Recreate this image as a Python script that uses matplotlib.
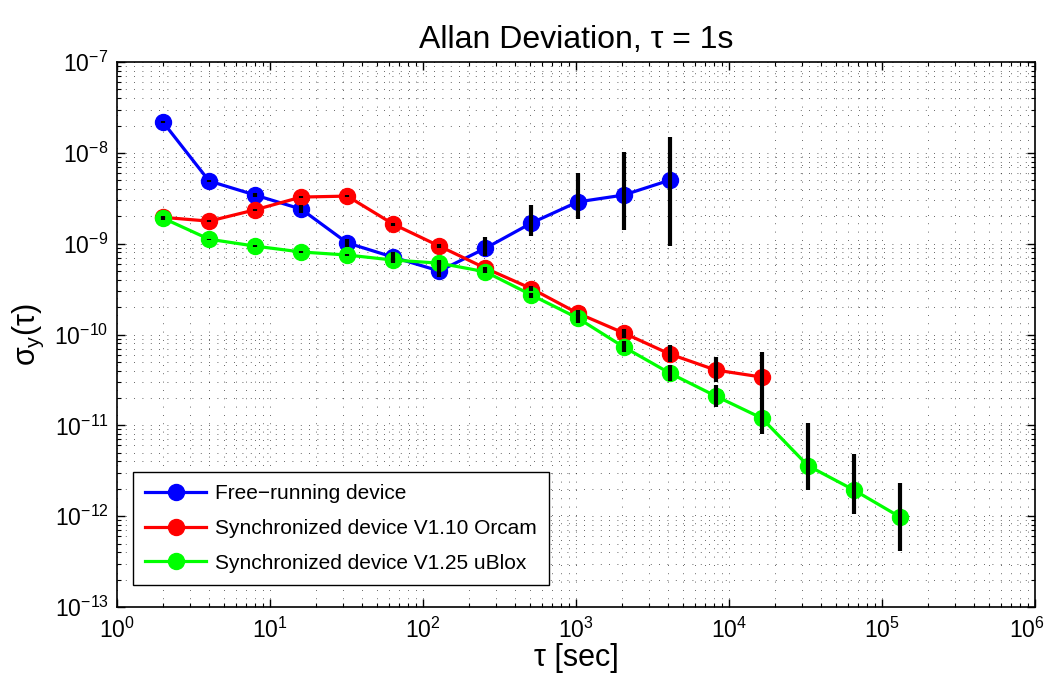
import matplotlib
matplotlib.use("Agg")
import matplotlib.pyplot as plt
import matplotlib.transforms as mtransforms
import numpy as np

plt.rcParams["font.family"] = ["Liberation Sans", "DejaVu Sans"]
plt.rcParams["mathtext.fontset"] = "custom"
plt.rcParams["mathtext.rm"] = "Liberation Sans"
plt.rcParams["mathtext.it"] = "Liberation Sans"
plt.rcParams["xtick.labelsize"] = 16.5
plt.rcParams["ytick.labelsize"] = 16.5
plt.rcParams["xtick.major.pad"] = 8
plt.rcParams["ytick.major.pad"] = 6

tau = [2, 4, 8, 16, 32, 64, 128, 256, 512, 1024, 2048, 4096,
       8192, 16384, 32768, 65536, 131072]

free_val = [2.18e-8, 4.9e-9, 3.43e-9, 2.4e-9, 1.02e-9, 7.1e-10, 5.0e-10,
            8.9e-10, 1.69e-9, 2.88e-9, 3.43e-9, 5.0e-9]
free_lo = [2.14e-8, 4.8e-9, 3.3e-9, 2.2e-9, 9.3e-10, 6.3e-10, 4.27e-10,
           7.3e-10, 1.21e-9, 1.87e-9, 1.41e-9, 9.4e-10]
free_hi = [2.22e-8, 5.0e-9, 3.6e-9, 2.65e-9, 1.12e-9, 8.1e-10, 6.6e-10,
           1.18e-9, 2.66e-9, 6.0e-9, 1.02e-8, 1.49e-8]

orcam_val = [1.95e-9, 1.77e-9, 2.36e-9, 3.26e-9, 3.34e-9, 1.64e-9, 9.4e-10,
             5.37e-10, 3.2e-10, 1.72e-10, 1.04e-10, 6.1e-11, 4.06e-11, 3.4e-11]
orcam_lo = [1.92e-9, 1.74e-9, 2.3e-9, 3.18e-9, 3.24e-9, 1.58e-9, 9.0e-10,
            5.1e-10, 3.0e-10, 1.58e-10, 9.2e-11, 5.0e-11, 3.0e-11, 2.0e-11]
orcam_hi = [1.98e-9, 1.8e-9, 2.42e-9, 3.34e-9, 3.44e-9, 1.7e-9, 9.8e-10,
            5.6e-10, 3.4e-10, 1.86e-10, 1.16e-10, 7.7e-11, 5.7e-11, 6.4e-11]

ublox_val = [1.91e-9, 1.12e-9, 9.4e-10, 8.1e-10, 7.5e-10, 6.6e-10, 6.1e-10,
             4.9e-10, 2.72e-10, 1.52e-10, 7.3e-11, 3.76e-11, 2.1e-11, 1.2e-11,
             3.6e-12, 1.94e-12, 9.8e-13]
ublox_lo = [1.8e-9, 1.1e-9, 9.2e-10, 7.9e-10, 7.3e-10, 6.2e-10, 5.8e-10,
            4.7e-10, 2.5e-10, 1.35e-10, 6.4e-11, 3.1e-11, 1.6e-11, 8.0e-12,
            1.94e-12, 1.05e-12, 4.1e-13]
ublox_hi = [2.0e-9, 1.14e-9, 9.6e-10, 8.3e-10, 7.7e-10, 7.0e-10, 6.4e-10,
            5.1e-10, 2.9e-10, 1.7e-10, 8.5e-11, 4.6e-11, 2.8e-11, 2.0e-11,
            1.06e-11, 4.8e-12, 2.3e-12]

series = [
    ("Free\u2212running device", free_val, free_lo, free_hi, "#0000ff"),
    ("Synchronized device V1.10 Orcam", orcam_val, orcam_lo, orcam_hi, "#ff0000"),
    ("Synchronized device V1.25 uBlox", ublox_val, ublox_lo, ublox_hi, "#00ff00"),
]

fig = plt.figure(figsize=(10.48, 6.77), dpi=100)
ax = fig.add_axes([0.1116, 0.1034, 0.876, 0.805])

for label, val, lo, hi, color in series:
    x = tau[:len(val)]
    ax.plot(x, val, "-o", color=color, lw=2.3, ms=11.5, label=label, zorder=3)
for label, val, lo, hi, color in series:
    x = tau[:len(val)]
    ax.vlines(x, lo, hi, color="k", lw=3, zorder=4)

ax.set_xscale("log")
ax.set_yscale("log")
ax.set_xlim(1, 1e6)
ax.set_ylim(1e-13, 1e-7)
ax.set_xticks([10.0 ** k for k in range(0, 7)])

ax.grid(True, which="both", color="k", linestyle=(0, (1, 9)), lw=0.6, alpha=0.8)
ax.tick_params(which="both", direction="in", top=True, right=True)
ax.tick_params(which="major", length=6, width=1)
ax.tick_params(which="minor", length=3, width=0.8)
for s in ax.spines.values():
    s.set_linewidth(1.2)

# keep the 10^6 label inside the figure
last = ax.get_xticklabels()[-1]
shift = mtransforms.ScaledTranslation(-6 / 72, 0, fig.dpi_scale_trans)
last.set_transform(last.get_transform() + shift)

ax.set_title("Allan Deviation, \u03c4 = 1s", fontsize=23, pad=10)
ax.set_xlabel("\u03c4 [sec]", fontsize=22, labelpad=0)
ax.set_ylabel(r"$\sigma_y(\tau)$", fontsize=22, labelpad=6)

leg = ax.legend(loc="lower left", bbox_to_anchor=(0.0174, 0.04), fontsize=15,
                fancybox=False, edgecolor="k", framealpha=1, handlelength=2.9,
                borderpad=0.6, labelspacing=0.75, handletextpad=0.45,
                borderaxespad=0)
leg.get_frame().set_linewidth(1.0)

fig.savefig("out.png", dpi=100)
